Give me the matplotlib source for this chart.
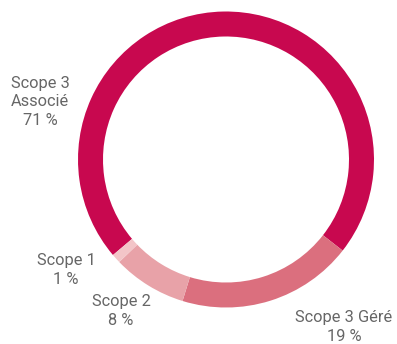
import matplotlib
matplotlib.use("Agg")
import matplotlib.pyplot as plt

# Emission breakdown by scope (percent)
categories = ["Scope 3\nAssocié", "Scope 3 Géré", "Scope 2", "Scope 1"]
shares = [71, 19, 8, 1]
colors = ["#C8084F", "#DB6F7E", "#E8A2A8", "#F3C5C8"]

# label anchor positions in pixel coordinates (x, y from top)
label_pos = [(40, 102), (344, 327), (121, 311), (66, 270)]

W, H = 397, 344
fig = plt.figure(figsize=(W / 100, H / 100), dpi=100)
ax = fig.add_axes([0, 0, 1, 1])

cx, cy, R = 226, H - 159.5, 148
ax.pie(shares, colors=colors, radius=R, center=(cx, cy),
       startangle=220.2, counterclock=False,
       wedgeprops=dict(width=25, linewidth=0), frame=True)
ax.set_xlim(0, W)
ax.set_ylim(0, H)
ax.set_aspect("equal")
ax.axis("off")

for cat, val, (x, y) in zip(categories, shares, label_pos):
    ax.text(x, H - y, f"{cat}\n{val} %", ha="center", va="center",
            multialignment="center", fontsize=11.8, family="Roboto",
            color="#666666", linespacing=1.3)

fig.savefig("out.png", dpi=100)
